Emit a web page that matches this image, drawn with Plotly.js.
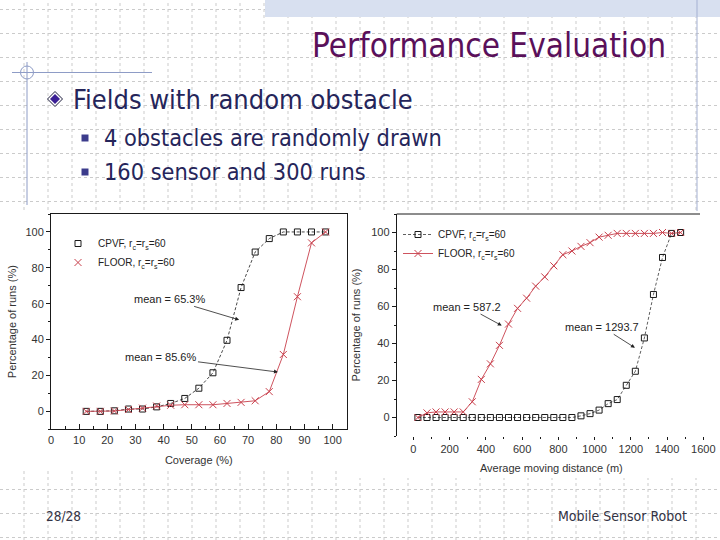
<!DOCTYPE html>
<html>
<head>
<meta charset="utf-8">
<script src="https://cdn.plot.ly/plotly-3.0.1.min.js"></script>
<style>
  html, body { margin: 0; padding: 0; background: #ffffff; }
  #chart { width: 720px; height: 540px; }
</style>
</head>
<body>
<div id="chart"></div>
<script>
// Coverage distribution (left panel): share of runs reaching each coverage level
const coverageX = [12.5, 17.5, 22.5, 27.5, 32.5, 37.5, 42.5, 47.5, 52.5, 57.5, 62.5, 67.5, 72.5, 77.5, 82.5, 87.5, 92.5, 97.5];
const coverageCPVF = [0, 0, 0.3, 1.3, 1.3, 2.5, 4.4, 7.2, 12.9, 21.5, 39.6, 69, 88.8, 96.3, 100, 100, 100, 100];
const coverageFLOOR = [0, 0, 0.2, 1.0, 1.8, 3.0, 3.4, 3.7, 3.7, 3.7, 4.4, 5.0, 5.9, 11, 31.7, 63.9, 93.9, 100];

// Moving distance distribution (right panel)
const distanceX = [25, 75, 125, 175, 225, 275, 325, 375, 425, 475, 525, 575, 625, 675, 725, 775, 825, 875, 925, 975, 1025, 1075, 1125, 1175, 1225, 1275, 1325, 1375, 1425, 1475];
const distanceCPVF = [0, 0, 0, 0, 0, 0, 0, 0, 0, 0, 0, 0, 0, 0, 0, 0, 0, 0, 0.9, 2.1, 4, 7.5, 9.7, 17.4, 25, 43, 66.5, 86.5, 99.5, 100];
const distanceFLOOR = [0, 2.5, 3, 3, 3, 3, 8.5, 20.6, 29, 39, 50.5, 59, 64.5, 71, 76, 82, 88, 90, 92.5, 94.5, 97.5, 98.5, 99.5, 99.5, 99.5, 99.5, 99.5, 100, 99.5, 100];

const seriesNames = ['CPVF, r<sub>c</sub>=r<sub>s</sub>=60', 'FLOOR, r<sub>c</sub>=r<sub>s</sub>=60'];
const meanLabels = ['mean = 65.3%', 'mean = 85.6%', 'mean = 587.2', 'mean = 1293.7'];

// Slide geometry helpers: pixel position on the 720x540 slide -> paper fraction
const W = 720, H = 540;
const px = v => v / W;
const py = v => 1 - v / H;

const BLACK = '#1a1a1a';
const RED = '#c8404c';
const chartFont = 'Liberation Sans, Arial, sans-serif';
const slideFont = 'DejaVu Sans Condensed, DejaVu Sans, sans-serif';

const traces = [
  // left panel
  { x: coverageX, y: coverageCPVF, xaxis: 'x', yaxis: 'y', mode: 'lines+markers', showlegend: false,
    line: { color: BLACK, width: 0.8, dash: '3px,2px' },
    marker: { symbol: 'square-open', size: 6, color: BLACK, line: { width: 1, color: BLACK } } },
  { x: coverageX, y: coverageFLOOR, xaxis: 'x', yaxis: 'y', mode: 'lines+markers', showlegend: false,
    line: { color: RED, width: 0.9 },
    marker: { symbol: 'x-thin-open', size: 7, color: RED, line: { width: 1, color: RED } } },
  // left panel legend keys (marker only)
  { x: [null], y: [null], xaxis: 'x', yaxis: 'y', mode: 'markers', name: seriesNames[0], legend: 'legend',
    marker: { symbol: 'square-open', size: 6, color: BLACK, line: { width: 1, color: BLACK } } },
  { x: [null], y: [null], xaxis: 'x', yaxis: 'y', mode: 'markers', name: seriesNames[1], legend: 'legend',
    marker: { symbol: 'x-thin-open', size: 7, color: RED, line: { width: 1, color: RED } } },
  // right panel
  { x: distanceX, y: distanceCPVF, xaxis: 'x2', yaxis: 'y2', mode: 'lines+markers', name: seriesNames[0], legend: 'legend2',
    line: { color: BLACK, width: 0.7, dash: '3px,2px' },
    marker: { symbol: 'square-open', size: 6, color: BLACK, line: { width: 1, color: BLACK } } },
  { x: distanceX, y: distanceFLOOR, xaxis: 'x2', yaxis: 'y2', mode: 'lines+markers', name: seriesNames[1], legend: 'legend2',
    line: { color: RED, width: 0.9 },
    marker: { symbol: 'x-thin-open', size: 7, color: RED, line: { width: 1, color: RED } } }
];

// Slide background: dotted layout grid
const shapes = [];
const gridLine = { color: '#cbcbcb', width: 1, dash: 'dot' };
for (let gx = 24; gx < W; gx += 24) {
  shapes.push({ type: 'line', xref: 'paper', yref: 'paper', layer: 'below', x0: px(gx), x1: px(gx), y0: 0, y1: 1, line: gridLine });
}
for (let gy = 9.5; gy < H; gy += 24) {
  shapes.push({ type: 'line', xref: 'paper', yref: 'paper', layer: 'below', x0: 0, x1: 1, y0: py(gy), y1: py(gy), line: gridLine });
}
// hatched header band
shapes.push({ type: 'rect', xref: 'paper', yref: 'paper', layer: 'below', x0: px(265), x1: 1, y0: py(17), y1: 1,
  fillcolor: '#d8e0f0', line: { width: 0 } });
// decorative rules
const ruleColor = '#8e9cc6';
shapes.push({ type: 'line', xref: 'paper', yref: 'paper', layer: 'below', x0: px(697), x1: px(697), y0: py(212), y1: 1, line: { color: '#a4b0d2', width: 1 } });
shapes.push({ type: 'line', xref: 'paper', yref: 'paper', layer: 'below', x0: px(12), x1: px(152), y0: py(72.5), y1: py(72.5), line: { color: ruleColor, width: 1 } });
shapes.push({ type: 'line', xref: 'paper', yref: 'paper', layer: 'below', x0: px(27), x1: px(27), y0: py(205), y1: py(62), line: { color: ruleColor, width: 1 } });
shapes.push({ type: 'circle', xref: 'paper', yref: 'paper', layer: 'below', x0: px(20.5), x1: px(33.5), y0: py(79), y1: py(66), line: { color: ruleColor, width: 1 } });
// chart panels (white cards)
shapes.push({ type: 'rect', xref: 'paper', yref: 'paper', layer: 'below', x0: 0, x1: px(355), y0: py(468), y1: py(212), fillcolor: '#ffffff', line: { width: 0 } });
shapes.push({ type: 'rect', xref: 'paper', yref: 'paper', layer: 'below', x0: px(352), x1: 1, y0: py(478), y1: py(211), fillcolor: '#ffffff', line: { width: 0 } });
// right panel top frame line
shapes.push({ type: 'line', xref: 'paper', yref: 'paper', x0: px(396.7), x1: px(700), y0: py(214), y1: py(214), line: { color: BLACK, width: 1 } });
// bullet markers
const diamond = (cx, cy, r) => `M${px(cx - r)},${py(cy)} L${px(cx)},${py(cy - r)} L${px(cx + r)},${py(cy)} L${px(cx)},${py(cy + r)} Z`;
shapes.push({ type: 'path', xref: 'paper', yref: 'paper', path: diamond(55, 99, 7.5), fillcolor: '#ffffff', line: { color: '#1c1c3c', width: 1 } });
shapes.push({ type: 'path', xref: 'paper', yref: 'paper', path: diamond(55, 99, 5), fillcolor: '#3a1f94', line: { width: 0 } });
[138, 172].forEach(cy => shapes.push({ type: 'rect', xref: 'paper', yref: 'paper', x0: px(81.5), x1: px(88.5), y0: py(cy + 3.5), y1: py(cy - 3.5), fillcolor: '#3c3c8c', line: { width: 0 } }));

const textNote = (x, y, text, size, color, anchor, family) => ({
  xref: 'paper', yref: 'paper', x: px(x), y: py(y), text, showarrow: false,
  xanchor: anchor, yanchor: 'middle', font: { family: family || slideFont, size, color }
});

// mean label sitting at a pixel offset from the point its arrow marks
const meanNote = (xa, ya, x, y, dx, dy, text) => ({
  xref: xa, yref: ya, x, y, ax: dx, ay: dy, text, showarrow: true,
  arrowhead: 2, arrowsize: 1, arrowwidth: 0.8, arrowcolor: '#222', standoff: 0, startstandoff: 0,
  font: { family: chartFont, size: 11, color: '#222' }
});

const annotations = [
  textNote(668, 45, 'Performance Evaluation', 33, '#5a105a', 'right'),
  textNote(71, 99, 'Fields with random obstacle', 27, '#25255a', 'left'),
  textNote(102, 137, '4 obstacles are randomly drawn', 23.3, '#25255a', 'left'),
  textNote(102, 171, '160 sensor and 300 runs', 23.3, '#25255a', 'left'),
  textNote(44, 516, '28/28', 13.5, '#333344', 'left'),
  textNote(689, 516, 'Mobile Sensor Robot', 14, '#333344', 'right'),
  meanNote('x', 'y', 66.8, 51, -70, -21, meanLabels[0]),
  meanNote('x', 'y', 80.6, 21.9, -117, -15, meanLabels[1]),
  meanNote('x2', 'y2', 487.7, 49.7, -35, -19, meanLabels[2]),
  meanNote('x2', 'y2', 1222.8, 37.7, -33, -21, meanLabels[3])
];

const tickFont = { family: chartFont, size: 11, color: '#333' };
const titleFont = { family: chartFont, size: 11, color: '#333' };

const layout = {
  width: W, height: H,
  margin: { l: 0, r: 0, t: 0, b: 0 },
  paper_bgcolor: '#ffffff',
  plot_bgcolor: 'rgba(0,0,0,0)',
  hovermode: false,
  xaxis: {
    domain: [px(51), px(346.7)], range: [0, 105], anchor: 'y',
    showline: true, mirror: true, linecolor: BLACK, linewidth: 1,
    ticks: 'inside', ticklen: 5, tickwidth: 1, tickcolor: BLACK, tick0: 0, dtick: 10,
    minor: { ticks: 'inside', ticklen: 3, dtick: 5, tickcolor: BLACK },
    showgrid: false, zeroline: false, tickfont: tickFont,
    title: { text: 'Coverage (%)', font: titleFont, standoff: 11 }
  },
  yaxis: {
    domain: [py(429.3), py(214)], range: [-10, 110], anchor: 'x',
    showline: true, mirror: true, linecolor: BLACK, linewidth: 1,
    ticks: 'outside', ticklen: 4, tickwidth: 1, tickcolor: BLACK, tick0: 0, dtick: 20,
    minor: { ticks: 'outside', ticklen: 2, dtick: 10, tickcolor: BLACK },
    showgrid: false, zeroline: false, tickfont: tickFont,
    title: { text: 'Percentage of runs (%)', font: titleFont, standoff: 6 }
  },
  xaxis2: {
    domain: [px(396.7), px(706)], range: [-92, 1615], anchor: 'y2',
    showline: false,
    ticks: 'outside', ticklen: 3, tickwidth: 1, tickcolor: BLACK, tick0: 0, dtick: 200,
    minor: { ticks: 'outside', ticklen: 2, dtick: 100, tickcolor: BLACK },
    showgrid: false, zeroline: false, tickfont: tickFont,
    title: { text: 'Average moving distance (m)', font: titleFont, standoff: 10 }
  },
  yaxis2: {
    domain: [py(436), py(214)], range: [-10, 110], anchor: 'x2',
    showline: true, linecolor: BLACK, linewidth: 1,
    ticks: 'outside', ticklen: 4, tickwidth: 1, tickcolor: BLACK, tick0: 0, dtick: 20,
    minor: { ticks: 'outside', ticklen: 2, dtick: 10, tickcolor: BLACK },
    showgrid: false, zeroline: false, tickfont: tickFont,
    title: { text: 'Percentage of runs (%)', font: titleFont, standoff: 8 }
  },
  legend: {
    x: px(58), y: py(229), xanchor: 'left', yanchor: 'top',
    bgcolor: 'rgba(0,0,0,0)', borderwidth: 0, tracegroupgap: 0,
    font: { family: chartFont, size: 10, color: '#222' }
  },
  legend2: {
    x: px(398), y: py(220), xanchor: 'left', yanchor: 'top',
    bgcolor: 'rgba(0,0,0,0)', borderwidth: 0, tracegroupgap: 0,
    font: { family: chartFont, size: 10, color: '#222' }
  },
  shapes, annotations
};

Plotly.newPlot('chart', traces, layout, { staticPlot: true, displayModeBar: false });
</script>
</body>
</html>
